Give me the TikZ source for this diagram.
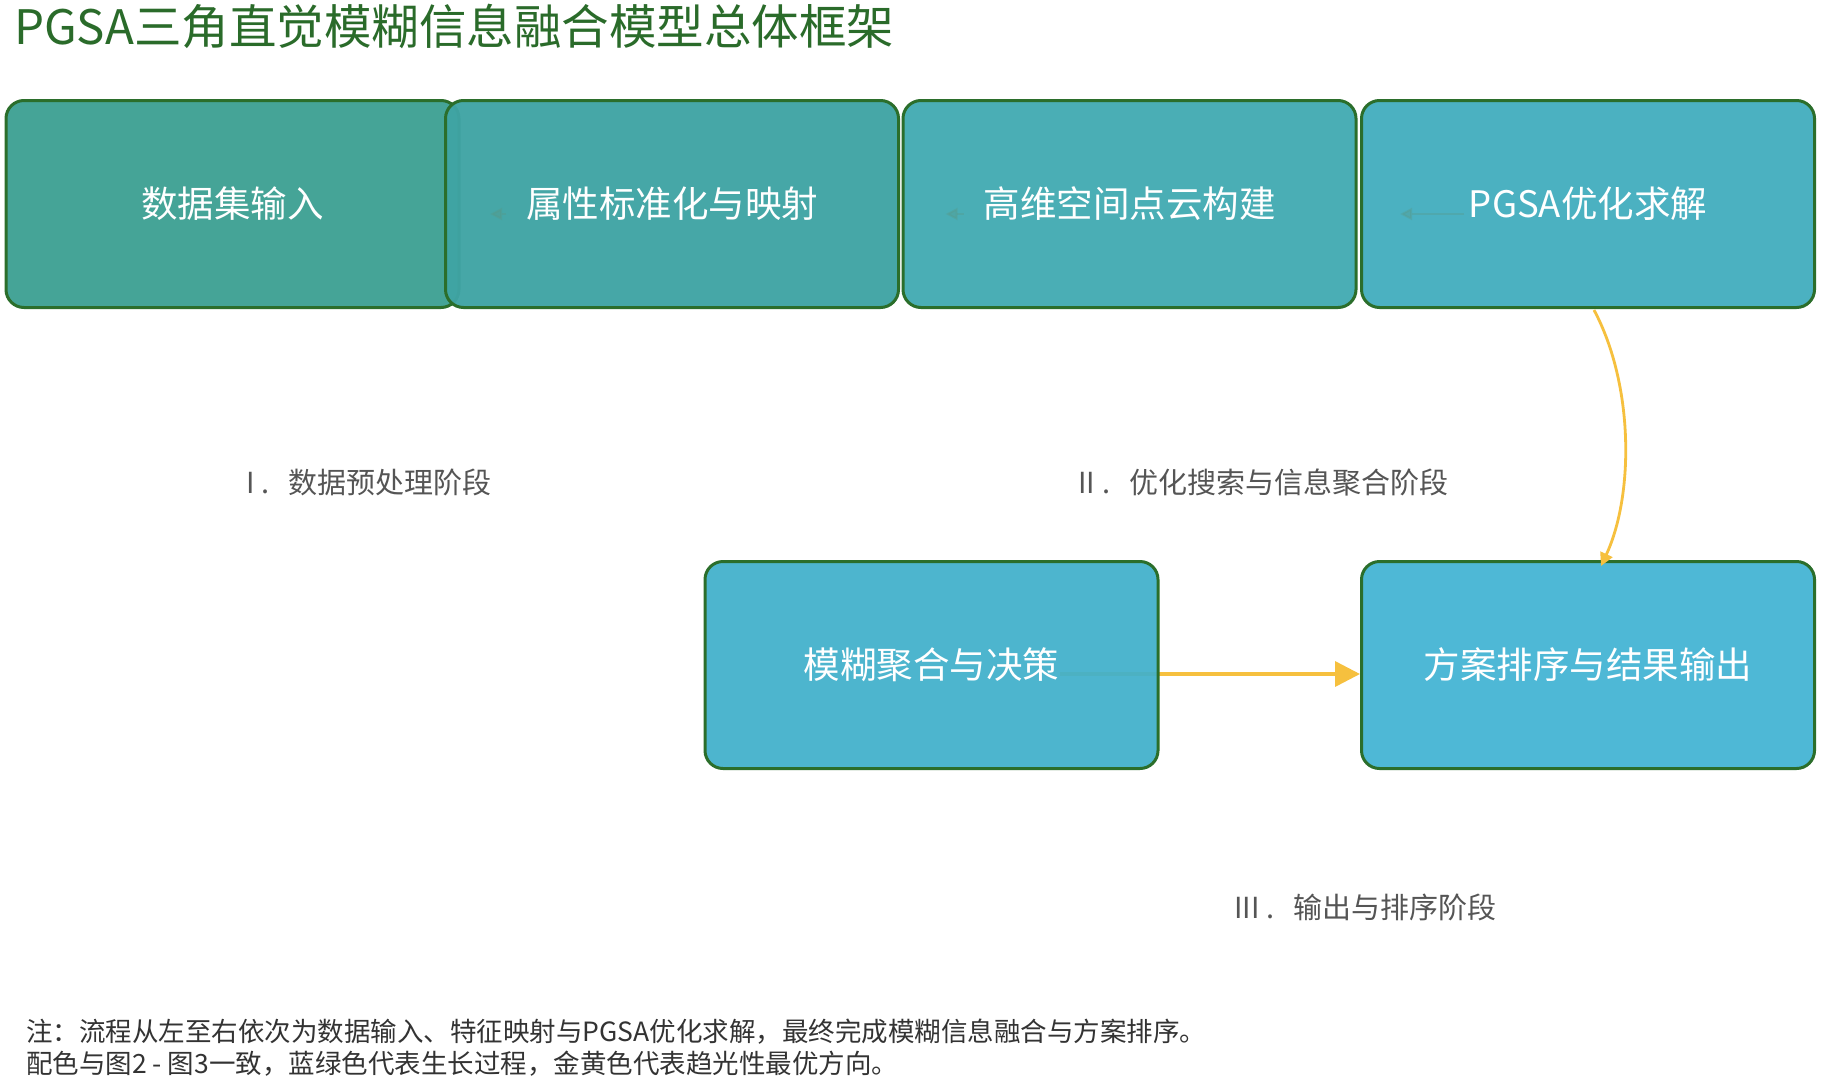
\documentclass[tikz,border=0pt]{standalone}
\usepackage{fontspec}
\setmainfont{Noto Sans CJK SC}
\usetikzlibrary{arrows.meta,calc}
\definecolor{bordergreen}{RGB}{43,110,43}
\definecolor{titlegreen}{RGB}{42,107,42}
\definecolor{cA}{RGB}{69,164,151}
\definecolor{cB}{RGB}{63,164,164}
\definecolor{cC}{RGB}{74,174,181}
\definecolor{cD}{RGB}{75,177,193}
\definecolor{cE}{RGB}{66,177,203}
\definecolor{cF}{RGB}{78,184,214}
\definecolor{gold}{RGB}{246,192,62}
\definecolor{phasegray}{RGB}{85,85,85}
\definecolor{notegray}{RGB}{51,51,51}
\definecolor{faintc}{RGB}{90,150,130}
\begin{document}
\begin{tikzpicture}[x=1pt,y=-1pt,
  stagebox/.style={draw=bordergreen, line width=3pt, rounded corners=18pt,
    minimum width=453pt, minimum height=207pt, inner sep=0pt,
    text=white, font=\fontsize{36.5}{40}\selectfont},
  phase/.style={anchor=west, inner sep=0pt, text=phasegray, font=\fontsize{29}{32}\selectfont},
  notetext/.style={anchor=west, inner sep=0pt, text=notegray, font=\fontsize{26.5}{30}\selectfont},
  goldarrow/.style={draw=gold, line width=3.5pt, -{Triangle[length=25pt,width=25pt]}},
  goldcurve/.style={draw=gold, line width=2.8pt, -{Triangle[length=13pt,width=13pt]}},
  faintarrow/.style={draw=faintc, opacity=0.3, line width=2pt, -{Triangle[length=12pt,width=12pt]}}
]
\useasboundingbox[fill=white] (0,0) rectangle (1822,1082);

% title
\node[anchor=west, inner sep=0pt, text=titlegreen, font=\fontsize{47.5}{50}\selectfont] (title) at (14,26) {PGSA三角直觉模糊信息融合模型总体框架};

% top row
\node[stagebox, fill=cA] (b1) at (232.5,204) {数据集输入};
\node[stagebox, fill=cB, fill opacity=0.96, text opacity=1] (b2) at (672,204) {属性标准化与映射};
\node[stagebox, fill=cC] (b3) at (1129.5,204) {高维空间点云构建};
\node[stagebox, fill=cD] (b4) at (1588,204) {PGSA优化求解};

% faint connectors
\coordinate (f2a) at ($(b2.west)+(62,10)$);
\coordinate (f2b) at ($(b2.west)+(46,10)$);
\coordinate (f3a) at ($(b3.west)+(62,10)$);
\coordinate (f3b) at ($(b3.west)+(44,10)$);
\coordinate (f4a) at ($(b4.west)+(104,10)$);
\coordinate (f4b) at ($(b4.west)+(40,10)$);
\draw[faintarrow] (f2a) -- (f2b);
\draw[faintarrow] (f3a) -- (f3b);
\draw[faintarrow] (f4a) -- (f4b);

% bottom row
\node[stagebox, fill=cF] (b6) at (1588,665) {方案排序与结果输出};
\coordinate (s5) at (1060,674);
\coordinate (e6) at ($(b6.west)+(0,9)$);
\draw[goldarrow] (s5) -- (e6);
\node[stagebox, fill=cE, fill opacity=0.94, text opacity=1] (b5) at (931.5,665) {模糊聚合与决策};

% curved gold arrow
\coordinate (cs) at ($(b4.south)+(6,1)$);
\coordinate (ce) at ($(b6.north)+(13,6)$);
\draw[goldcurve] (cs) .. controls (1634,385) and (1634,495) .. (ce);

% phase labels
\node[phase] (p1) at (246,482) {I\kern7pt.\kern19pt 数据预处理阶段};
\node[phase] (p2) at (1078,482) {II\kern7pt.\kern19pt 优化搜索与信息聚合阶段};
\node[phase] (p3) at (1234,907) {III\kern7pt.\kern19pt 输出与排序阶段};

% notes
\node[notetext] (n1) at (26,1032) {注：流程从左至右依次为数据输入、特征映射与PGSA优化求解，最终完成模糊信息融合与方案排序。};
\node[notetext] (n2) at (26,1064) {配色与图2 - 图3一致，蓝绿色代表生长过程，金黄色代表趋光性最优方向。};
\end{tikzpicture}
\end{document}
